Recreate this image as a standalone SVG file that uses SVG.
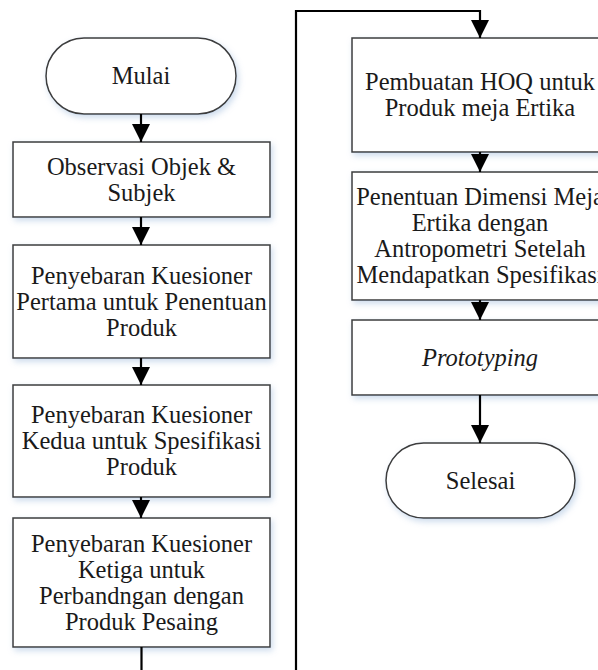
<svg xmlns="http://www.w3.org/2000/svg" width="598" height="670" viewBox="0 0 598 670">
<defs>
<filter id="sh" x="-10%" y="-10%" width="125%" height="130%">
<feDropShadow dx="2" dy="3" stdDeviation="3" flood-color="#8fb0d6" flood-opacity="0.45"/>
</filter>
<marker id="ah" markerUnits="userSpaceOnUse" markerWidth="18" markerHeight="18" viewBox="0 0 18 18" refX="18" refY="9" orient="auto">
<path d="M0,0 L18,9 L0,18 Z" fill="#000"/>
</marker>
</defs>
<style>
.box{fill:#fff;stroke:#3c3c3c;stroke-width:1.5;filter:url(#sh)}
.t{font-family:"Liberation Serif","Times New Roman",serif;font-size:24.5px;fill:#1a1a1a;text-anchor:middle}
.it{font-style:italic}
.c{fill:none;stroke:#000;stroke-width:2.2}
</style>
<rect width="598" height="670" fill="#fff"/>

<g id="mulai">
<rect class="box" x="46" y="38" width="190" height="76" rx="38" ry="38"/>
<text class="t" x="141" y="84">Mulai</text>
</g>
<g id="observasi">
<rect class="box" x="13" y="142" width="257" height="75"/>
<text class="t" x="141.5" y="174.5">Observasi Objek &amp;</text>
<text class="t" x="141.5" y="200.5">Subjek</text>
</g>
<g id="kuesioner1">
<rect class="box" x="13" y="245" width="257" height="113"/>
<text class="t" x="141.5" y="283.5">Penyebaran Kuesioner</text>
<text class="t" x="141.5" y="309.5">Pertama untuk Penentuan</text>
<text class="t" x="141.5" y="335.5">Produk</text>
</g>
<g id="kuesioner2">
<rect class="box" x="13" y="385" width="257" height="112"/>
<text class="t" x="141.5" y="423">Penyebaran Kuesioner</text>
<text class="t" x="141.5" y="449">Kedua untuk Spesifikasi</text>
<text class="t" x="141.5" y="475">Produk</text>
</g>
<g id="kuesioner3">
<rect class="box" x="13" y="518" width="257" height="129"/>
<text class="t" x="141.5" y="551.5">Penyebaran Kuesioner</text>
<text class="t" x="141.5" y="577.5">Ketiga untuk</text>
<text class="t" x="141.5" y="603.5">Perbandngan dengan</text>
<text class="t" x="141.5" y="629.5">Produk Pesaing</text>
</g>
<g id="hoq">
<rect class="box" x="352" y="38" width="256" height="114"/>
<text class="t" x="480" y="89.5">Pembuatan HOQ untuk</text>
<text class="t" x="480" y="116">Produk meja Ertika</text>
</g>
<g id="dimensi">
<rect class="box" x="352" y="172" width="256" height="128"/>
<text class="t" x="480" y="205">Penentuan Dimensi Meja</text>
<text class="t" x="480" y="231">Ertika dengan</text>
<text class="t" x="480" y="257">Antropometri Setelah</text>
<text class="t" x="480" y="283">Mendapatkan Spesifikasi</text>
</g>
<g id="prototyping">
<rect class="box" x="352" y="320" width="256" height="75"/>
<text class="t it" x="480" y="365.5">Prototyping</text>
</g>
<g id="selesai">
<rect class="box" x="386" y="443" width="189" height="75" rx="37.5" ry="37.5"/>
<text class="t" x="480.5" y="488.5">Selesai</text>
</g>

<g id="connectors">
<path class="c" d="M141,114 V142" marker-end="url(#ah)"/>
<path class="c" d="M141,217 V245" marker-end="url(#ah)"/>
<path class="c" d="M141,358 V385" marker-end="url(#ah)"/>
<path class="c" d="M141,497 V518" marker-end="url(#ah)"/>
<path class="c" d="M141.5,647 V690 H296 V11 H480 V38" marker-end="url(#ah)"/>
<path class="c" d="M480,152 V172" marker-end="url(#ah)"/>
<path class="c" d="M480,300 V320" marker-end="url(#ah)"/>
<path class="c" d="M480,395 V443" marker-end="url(#ah)"/>
</g>
</svg>
